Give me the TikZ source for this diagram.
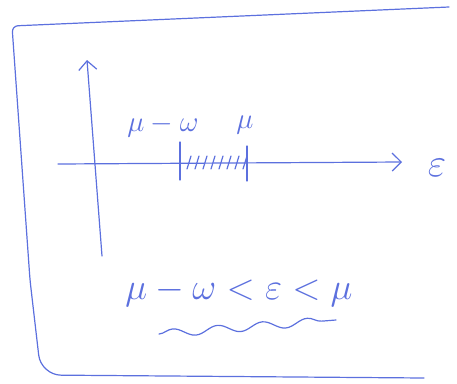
\RequirePackage{fix-cm}
\documentclass[tikz,border=0pt]{standalone}
\usepackage{amsmath,amssymb}
\usepackage{tikz}
\definecolor{penblue}{RGB}{92,112,222}
\usetikzlibrary{arrows.meta,positioning,decorations.pathmorphing}

\begin{document}
\begin{tikzpicture}[x=1pt, y=-1pt, line width=1.2pt, line cap=round, line join=round,
        color=penblue,
        axis/.style={-{Straight Barb[length=9pt,width=18pt,line width=1.2pt]}},
        lbl/.style={text=penblue, inner sep=0pt, font=\fontsize{29}{34}\selectfont},
        biglbl/.style={lbl, font=\fontsize{37}{44}\selectfont}]
        \useasboundingbox (0,0) rectangle (457,383);
        % frame
        \draw[rounded corners=6pt] (449,7) -- (12,26) -- (30,280)
            [rounded corners=20pt] -- (41,375) -- (424,378);
        % axes
        \coordinate (yb) at (102,256);
        \coordinate (yt) at (87,60);
        \coordinate (xl) at (58,164);
        \coordinate (xr) at (402,162);
        \draw[axis] (yb) -- (yt);
        \draw[axis] (xl) -- (xr);
        \node[biglbl, font=\fontsize{40}{48}\selectfont] (eps) at (437,168) {$\varepsilon$};
        % interval
        \coordinate (lo) at (180,163);
        \coordinate (hi) at (247,163);
        \draw ([yshift=21pt]lo) -- ([yshift=-17pt]lo);
        \draw ([yshift=17pt]hi) -- ([yshift=-18pt]hi);
        \foreach \x in {187,195,...,243}
            \draw (\x,169) -- (\x+4,156);
        \node[lbl] (lolbl) at (163,126) {$\mu-\omega$};
        \node[lbl] (hilbl) at (245,125) {$\mu$};
        % condition
        \node[biglbl] (cond) at (239,292) {$\mu-\omega<\varepsilon<\mu$};
        \coordinate (w1) at (159,334);
        \coordinate (w2) at (336,320);
        \draw[decorate, decoration={snake, amplitude=4pt, segment length=45pt}] (w1) -- (w2);
\end{tikzpicture}
\end{document}
